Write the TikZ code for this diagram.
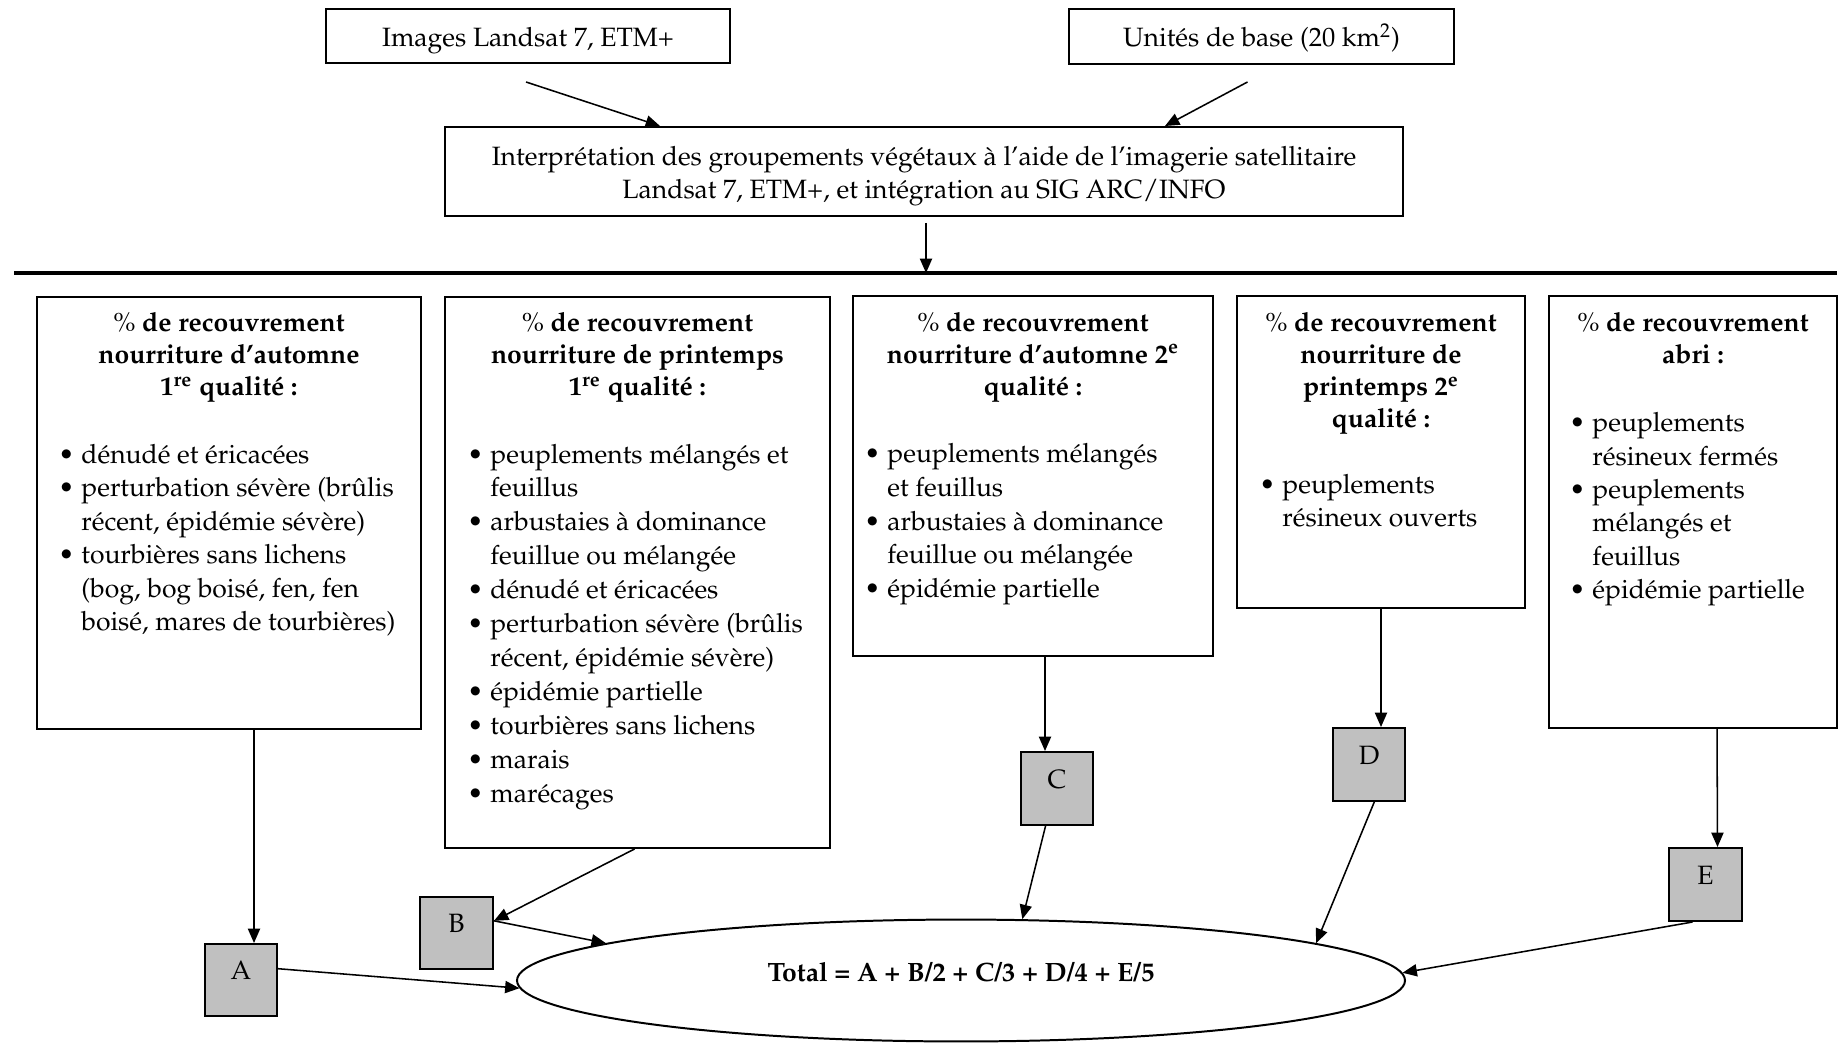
\documentclass[tikz,border=0pt]{standalone}
\usepackage[T1]{fontenc}
\usepackage{mathpazo}
\usetikzlibrary{arrows.meta,calc,fit,shapes.geometric}
\definecolor{boxgrey}{HTML}{C0C0C0}

% bullet and continuation indent for the item lists
\newcommand\bul{\makebox[10.4pt][l]{\textbullet}}
\newcommand\cnt{\hspace*{10.4pt}}
% item list: first argument is the line spacing
\newcommand\itemsblock[2]{\fontsize{12}{#1}\selectfont\begin{tabular}[t]{@{}l@{}}#2\end{tabular}}
% bold centred heading of a criterion box
\newcommand\headblock[1]{\fontsize{12}{14.5pt}\selectfont\bfseries\begin{tabular}[t]{@{}c@{}}#1\end{tabular}}
\newcommand\pct{{\mdseries\%}}

\begin{document}
\begin{tikzpicture}[x=0.4528pt, y=-0.4528pt,
  font=\fontsize{12}{15pt}\selectfont,
  frame/.style={draw, line width=0.9pt, inner sep=0pt},
  source/.style={frame, text height=12pt, text depth=2.8pt},
  greybox/.style={frame, fill=boxgrey, text height=8.3pt, text depth=11pt},
  arr/.style={line width=0.7pt, -{Triangle[length=6.5pt,width=5.5pt]}},
  rule/.style={line width=1.6pt},
  head/.style={anchor=base, inner sep=0pt},
  items/.style={anchor=base west, inner sep=0pt}]

\fill[white] (0,0) rectangle (1844,1043);
\useasboundingbox (0,0) rectangle (1844,1043);

% sources and interpretation step
\node[source, minimum width=182.9pt, minimum height=24.45pt] (img) at (528,36)
  {Images Landsat 7, ETM+};
\node[source, minimum width=174.3pt, minimum height=24.9pt] (unit) at (1261.5,36.5)
  {Unit\'es de base (20 km\textsuperscript{2})};
\node[frame, minimum width=433.8pt, minimum height=40.3pt, align=center] (main) at (924,171.5)
  {\rule{0pt}{12.6pt}Interpr\'etation des groupements v\'eg\'etaux \`a l'aide de l'imagerie satellitaire\\
   Landsat 7, ETM+, et int\'egration au SIG ARC/INFO};

\coordinate (rl) at (14,273);
\coordinate (rr) at (1837,273);
\draw[rule] (rl) -- (rr);

% criterion boxes
\node[frame, fit={(37,297)(421,729)}] (boxA) {};
\node[frame, fit={(445,297)(830,848)}] (boxB) {};
\node[frame, fit={(853,296)(1213,656)}] (boxC) {};
\node[frame, fit={(1237,296)(1525,608)}] (boxD) {};
\node[frame, fit={(1549,296)(1837,728)}] (boxE) {};

\node[head] (hA) at (229,331.7) {\headblock{\pct{} de recouvrement\\nourriture d'automne\\1\textsuperscript{re} qualit\'e :}};
\node[head] (hB) at (637.5,331.7) {\headblock{\pct{} de recouvrement\\nourriture de printemps\\1\textsuperscript{re} qualit\'e :}};
\node[head] (hC) at (1033,331) {\headblock{\pct{} de recouvrement\\nourriture d'automne 2\textsuperscript{e}\\qualit\'e :}};
\node[head] (hD) at (1381,331.7) {\headblock{\pct{} de recouvrement\\nourriture de\\printemps 2\textsuperscript{e}\\qualit\'e :}};
\node[head] (hE) at (1693,331.7) {\headblock{\pct{} de recouvrement\\abri :}};

\node[items] (lA) at (58,463) {\itemsblock{15.2pt}{%
  \bul d\'enud\'e et \'ericac\'ees\\
  \bul perturbation s\'ev\`ere (br\^ulis\\
  \cnt r\'ecent, \'epid\'emie s\'ev\`ere)\\
  \bul tourbi\`eres sans lichens\\
  \cnt (bog, bog bois\'e, fen, fen\\
  \cnt bois\'e, mares de tourbi\`eres)}};
\node[items] (lB) at (467,463) {\itemsblock{15.35pt}{%
  \bul peuplements m\'elang\'es et\\
  \cnt feuillus\\
  \bul arbustaies \`a dominance\\
  \cnt feuillue ou m\'elang\'ee\\
  \bul d\'enud\'e et \'ericac\'ees\\
  \bul perturbation s\'ev\`ere (br\^ulis\\
  \cnt r\'ecent, \'epid\'emie s\'ev\`ere)\\
  \bul \'epid\'emie partielle\\
  \bul tourbi\`eres sans lichens\\
  \bul marais\\
  \bul mar\'ecages}};
\node[items] (lC) at (864,462.5) {\itemsblock{15.3pt}{%
  \bul peuplements m\'elang\'es\\
  \cnt et feuillus\\
  \bul arbustaies \`a dominance\\
  \cnt feuillue ou m\'elang\'ee\\
  \bul \'epid\'emie partielle}};
\node[items] (lD) at (1259,493) {\itemsblock{15.26pt}{%
  \bul peuplements\\
  \cnt r\'esineux ouverts}};
\node[items] (lE) at (1569,431.7) {\itemsblock{15.1pt}{%
  \bul peuplements\\
  \cnt r\'esineux ferm\'es\\
  \bul peuplements\\
  \cnt m\'elang\'es et\\
  \cnt feuillus\\
  \bul \'epid\'emie partielle}};

% weighted terms and total
\node[greybox, fit={(205,944)(277,1016)}] (gA) {A};
\node[greybox, fit={(420,897)(493,969)}] (gB) {B};
\node[greybox, fit={(1021,752)(1093,825)}] (gC) {C};
\node[greybox, fit={(1333,728)(1405,801)}] (gD) {D};
\node[greybox, fit={(1669,848)(1742,921)}] (gE) {E};

\node[draw, ellipse, line width=0.9pt, inner sep=0pt,
      minimum width=402.1pt, minimum height=55.2pt,
      text height=8.5pt, text depth=7.6pt, font=\fontsize{12}{15pt}\selectfont\bfseries]
  (ell) at (961,980.5) {Total = A + B/2 + C/3 + D/4 + E/5};

% connectors
\draw[arr] ($(img.south)+(-2,18)$) -- ($(main.north west)+(216,0)$);
\draw[arr] ($(unit.south)+(-14,17)$) -- ($(main.north west)+(721,0)$);
\draw[arr] ($(main.south)+(2,6)$) -- ($(main.south |- rl)+(2,0)$);

\draw[arr] ($(boxA.south)+(25,0)$) -- ($(gA.north)+(13,0)$);
\draw[arr] ($(boxB.south)+(-3,0)$) -- (gB.18);
\draw[arr] ($(boxC.south)+(12,0)$) -- ($(gC.north)+(-12,0)$);
\draw[arr] (boxD.south) -- ($(gD.north)+(12,0)$);
\draw[arr] ($(boxE.south)+(24,0)$) -- ($(gE.north)+(12,0)$);

\draw[arr] (gA.17) -- (ell.181);
\draw[arr] (gB.18) -- (ell.174);
\draw[arr] (gC.253) -- (ell.45);
\draw[arr] (gD.278) -- (ell.6);
\draw[arr] (gE.251) -- (ell.1);
\end{tikzpicture}
\end{document}
